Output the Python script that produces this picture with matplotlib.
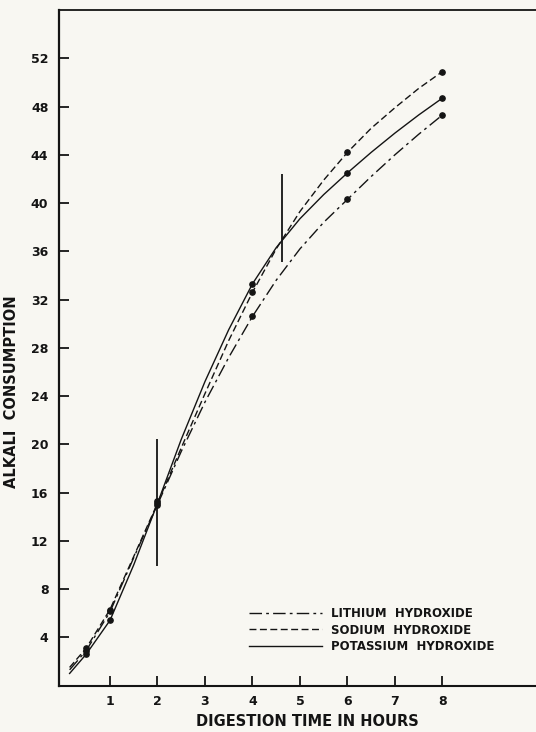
import matplotlib
matplotlib.use("Agg")
import matplotlib.pyplot as plt

# ---- data ----
curve_x = [0.15, 0.5, 1.0, 1.5, 2.0, 2.5, 3.0, 3.5, 4.0, 4.5, 5.0, 5.5, 6.0, 6.5, 7.0, 7.5, 8.0]
lithium_curve = [1.3, 2.9, 6.1, 10.6, 15.0, 19.4, 23.5, 27.2, 30.6, 33.6, 36.2, 38.4, 40.3, 42.2, 44.0, 45.7, 47.3]
sodium_curve = [1.5, 3.1, 6.3, 10.7, 15.1, 19.7, 24.2, 28.6, 32.6, 36.2, 39.3, 41.9, 44.2, 46.2, 47.9, 49.5, 50.9]
potassium_curve = [1.0, 2.6, 5.4, 10.0, 15.1, 20.4, 25.2, 29.5, 33.3, 36.3, 38.7, 40.7, 42.5, 44.2, 45.8, 47.3, 48.7]

point_x = [0.5, 1, 2, 4, 6, 8]
lithium_pts = [2.9, 6.2, 15.0, 30.6, 40.3, 47.3]
sodium_pts = [3.1, 6.3, 15.3, 32.6, 44.2, 50.9]
potassium_pts = [2.6, 5.4, 15.1, 33.3, 42.5, 48.7]

bar_x = [2.0, 4.62]
bar_low = [9.9, 35.1]
bar_high = [20.4, 42.4]

labels = ["LITHIUM  HYDROXIDE", "SODIUM  HYDROXIDE", "POTASSIUM  HYDROXIDE"]
xticks = [1, 2, 3, 4, 5, 6, 7, 8]
yticks = [4, 8, 12, 16, 20, 24, 28, 32, 36, 40, 44, 48, 52]

bg = "#f8f7f2"
ink = "#141414"

fig = plt.figure(figsize=(5.36, 7.32), dpi=100, facecolor=bg)
ax = fig.add_axes([0.111, 0.0635, 0.889, 0.9228], facecolor=bg)

lw = 1.0
styles = [(0, (9, 3, 2, 3)), (0, (5, 2.5)), "-"]
curves = [lithium_curve, sodium_curve, potassium_curve]
pts = [lithium_pts, sodium_pts, potassium_pts]
handles = []
for c, p, ls, lab in zip(curves, pts, styles, labels):
    h, = ax.plot(curve_x, c, color=ink, lw=lw, linestyle=ls, label=lab,
                 solid_joinstyle="round", dash_joinstyle="round")
    ax.plot(point_x, p, "o", color=ink, ms=3.8, zorder=3)
    handles.append(h)

ax.vlines(bar_x, bar_low, bar_high, color=ink, lw=1.3)

ax.set_xlim(-0.063, 9.97)
ax.set_ylim(0, 56)
ax.set_xticks(xticks)
ax.set_yticks(yticks)
ax.set_xticklabels([str(t) for t in xticks], fontweight="bold", fontsize=9)
ax.set_yticklabels([str(t) for t in yticks], fontweight="bold", fontsize=9)
ax.tick_params(direction="in", length=7, width=1.3, color=ink, labelcolor=ink)
ax.tick_params(axis="y", pad=8)
ax.tick_params(axis="x", pad=7)

ax.spines["right"].set_visible(False)
ax.spines["left"].set_linewidth(1.6)
ax.spines["bottom"].set_linewidth(1.5)
ax.spines["top"].set_linewidth(1.3)
for s in ax.spines.values():
    s.set_color(ink)

ax.set_ylabel("ALKALI  CONSUMPTION", fontweight="bold", fontsize=10.5, color=ink)
ax.yaxis.set_label_coords(-0.085, 0.435)
ax.set_xlabel("DIGESTION TIME IN HOURS", fontweight="bold", fontsize=10.5, color=ink, va="center")
ax.xaxis.set_label_coords(0.52, -0.054)

leg = ax.legend(handles=handles, loc="center left", bbox_to_anchor=(0.398, 0.082),
                frameon=False, borderpad=0, borderaxespad=0, handlelength=6.2,
                handletextpad=0.75, labelspacing=0.3,
                prop={"weight": "bold", "size": 8.5})
for t in leg.get_texts():
    t.set_color(ink)

fig.savefig("out.png", dpi=100, facecolor=bg)
